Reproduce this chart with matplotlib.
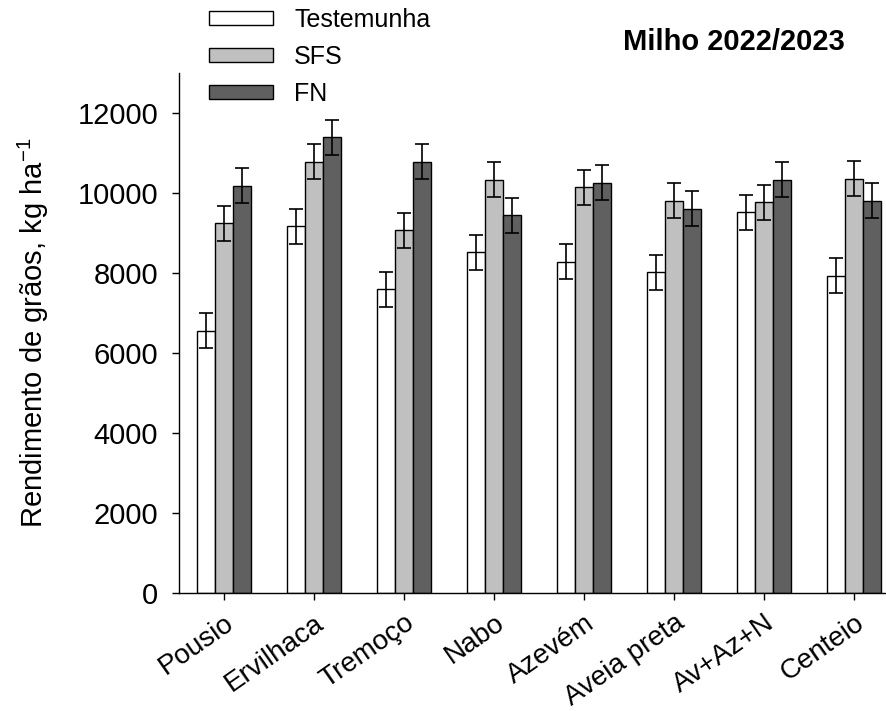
import numpy as np
import matplotlib
matplotlib.use("Agg")
import matplotlib.pyplot as plt
from matplotlib.patches import Patch

plt.rcParams['font.family'] = ['Liberation Sans', 'DejaVu Sans']

# Dados
culturas = ["Pousio", "Ervilhaca", "Tremoço", "Nabo", "Azevém",
            "Aveia preta", "Av+Az+N", "Centeio"]
testemunha = [6560, 9175, 7600, 8525, 8290, 8025, 9525, 7935]
sfs = [9250, 10790, 9075, 10335, 10150, 9815, 9775, 10360]
fn = [10190, 11400, 10785, 9450, 10260, 9610, 10340, 9810]
erro = 440

series = ["Testemunha", "SFS", "FN"]
cores = ["white", "#c0c0c0", "#606060"]

fig = plt.figure(figsize=(8.86, 7.11), dpi=100)
ax = fig.add_axes([179/886, 117.7/711, 720/886, 520/711])

x = np.arange(len(culturas))
w = 0.203
for k, (vals, cor) in enumerate(zip([testemunha, sfs, fn], cores)):
    pos = x + (k - 1) * w
    ax.bar(pos, vals, width=w, color=cor, edgecolor='black', linewidth=1.0, zorder=2)
    ax.errorbar(pos, vals, yerr=erro, fmt='none', ecolor='black',
                elinewidth=1.2, capsize=5, capthick=1.2, zorder=3)

ax.set_xlim(-0.5, 7.5)
ax.set_ylim(0, 13000)
ax.set_yticks(np.arange(0, 12001, 2000))
ax.set_xticks(x)
ax.set_xticklabels(culturas, rotation=35, ha='right', va='top',
                   rotation_mode='anchor', fontsize=20)
ax.tick_params(axis='y', labelsize=21, direction='out', length=5, width=1, pad=10)
ax.tick_params(axis='x', direction='out', length=5, width=1, pad=7)
for s in ['top', 'right']:
    ax.spines[s].set_visible(False)
for s in ['left', 'bottom']:
    ax.spines[s].set_linewidth(1.0)

ax.set_ylabel("Rendimento de grãos, kg ha$^{\\mathregular{-1}}$", fontsize=21, labelpad=19)

fig.text(623/886, 1 - 42/711, "Milho 2022/2023", fontsize=21, fontweight='bold',
         ha='left', va='center')

handles = [Patch(facecolor=c, edgecolor='black', linewidth=1.0) for c in cores]
fig.legend(handles, series, loc='upper left', bbox_to_anchor=(209/886, 1 - 8/711),
           frameon=False, fontsize=18, handlelength=2.56, handleheight=0.52,
           labelspacing=0.52, handletextpad=0.85, borderpad=0, borderaxespad=0)

fig.savefig("out.png", dpi=100)
